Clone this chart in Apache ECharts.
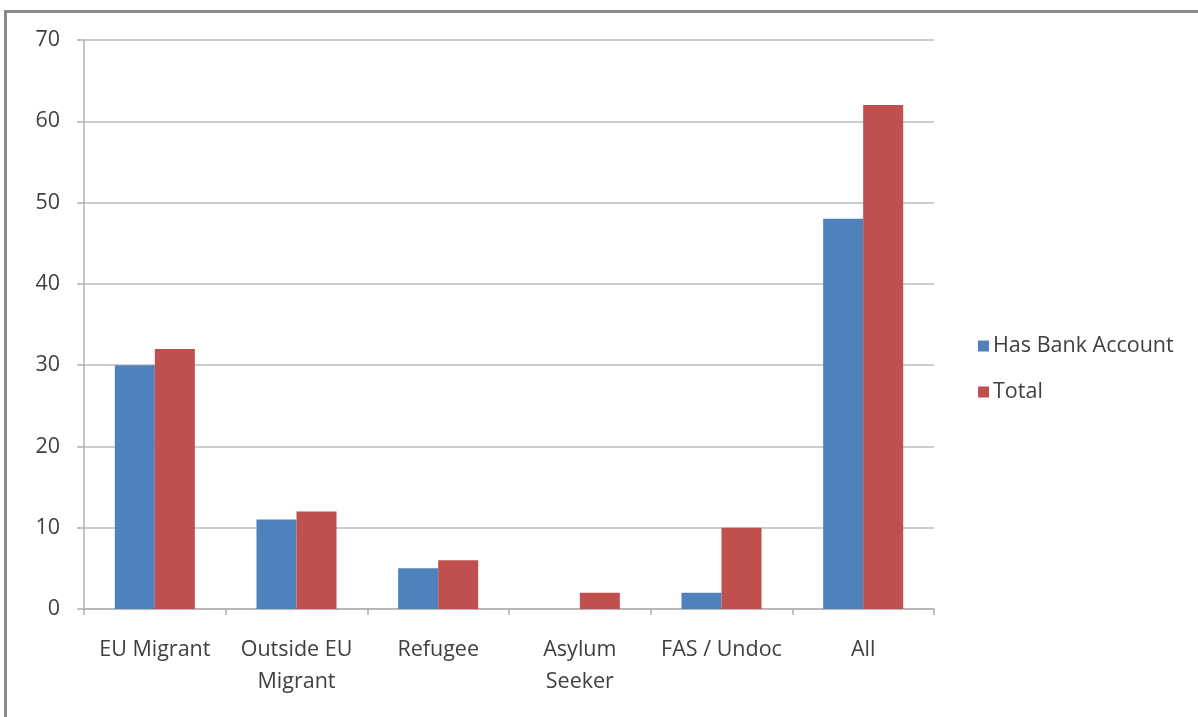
<!DOCTYPE html>
<html>
<head>
<meta charset="utf-8">
<script src="https://cdn.jsdelivr.net/npm/echarts@6/dist/echarts.min.js"></script>
<style>
  html, body { margin: 0; padding: 0; background: #ffffff; }
  #chart { width: 1198px; height: 717px; }
</style>
</head>
<body>
<div id="chart"></div>
<script>
// Bank account ownership by migrant group
const categories = ['EU Migrant', 'Outside EU\nMigrant', 'Refugee', 'Asylum\nSeeker', 'FAS / Undoc', 'All'];
const hasBankAccount = [30, 11, 5, 0, 2, 48];
const total = [32, 12, 6, 2, 10, 62];
const yTicks = { min: 0, max: 70, interval: 10 };

const textColor = '#404040';
const fontFamily = '"Open Sans", Lato, sans-serif';

const chart = echarts.init(document.getElementById('chart'), null, { renderer: 'canvas' });

chart.setOption({
  animation: false,
  backgroundColor: '#ffffff',
  textStyle: { fontFamily: fontFamily },
  graphic: [
    // frame around the chart area (top and left edges)
    { type: 'line', shape: { x1: 4, y1: 11.5, x2: 1198, y2: 11.5 }, style: { stroke: '#8a8a8a', lineWidth: 3 }, silent: true },
    { type: 'line', shape: { x1: 5.5, y1: 10, x2: 5.5, y2: 717 }, style: { stroke: '#8a8a8a', lineWidth: 3 }, silent: true }
  ],
  grid: { left: 84, right: 264, top: 40, bottom: 108, containLabel: false },
  legend: {
    orient: 'vertical',
    left: 973,
    top: 330,
    itemWidth: 11,
    itemHeight: 11,
    itemGap: 24,
    icon: 'rect',
    textStyle: { color: textColor, fontSize: 21.5, fontFamily: fontFamily, padding: [0, 0, 0, -1] },
    data: ['Has Bank Account', 'Total']
  },
  xAxis: {
    type: 'category',
    data: categories,
    axisLine: { show: true, lineStyle: { color: '#b0b0b0', width: 1.5 } },
    axisTick: { show: true, alignWithLabel: false, length: 6, lineStyle: { color: '#b0b0b0', width: 1.5 } },
    axisLabel: { color: textColor, fontSize: 21.5, lineHeight: 32, margin: 25, interval: 0, fontFamily: fontFamily }
  },
  yAxis: {
    type: 'value',
    min: yTicks.min,
    max: yTicks.max,
    interval: yTicks.interval,
    axisLine: { show: true, lineStyle: { color: '#b0b0b0', width: 1.5 } },
    axisTick: { show: true, length: 7, lineStyle: { color: '#b0b0b0', width: 1.5 } },
    axisLabel: { color: textColor, fontSize: 21.5, margin: 24, fontFamily: fontFamily },
    splitLine: { show: true, lineStyle: { color: '#bdbdbd', width: 1.5 } }
  },
  series: [
    {
      name: 'Has Bank Account',
      type: 'bar',
      data: hasBankAccount,
      barGap: '0%',
      barCategoryGap: '43.5%',
      itemStyle: { color: '#4F81BD' }
    },
    {
      name: 'Total',
      type: 'bar',
      data: total,
      barGap: '0%',
      barCategoryGap: '43.5%',
      itemStyle: { color: '#C0504D' }
    }
  ]
});
</script>
</body>
</html>
